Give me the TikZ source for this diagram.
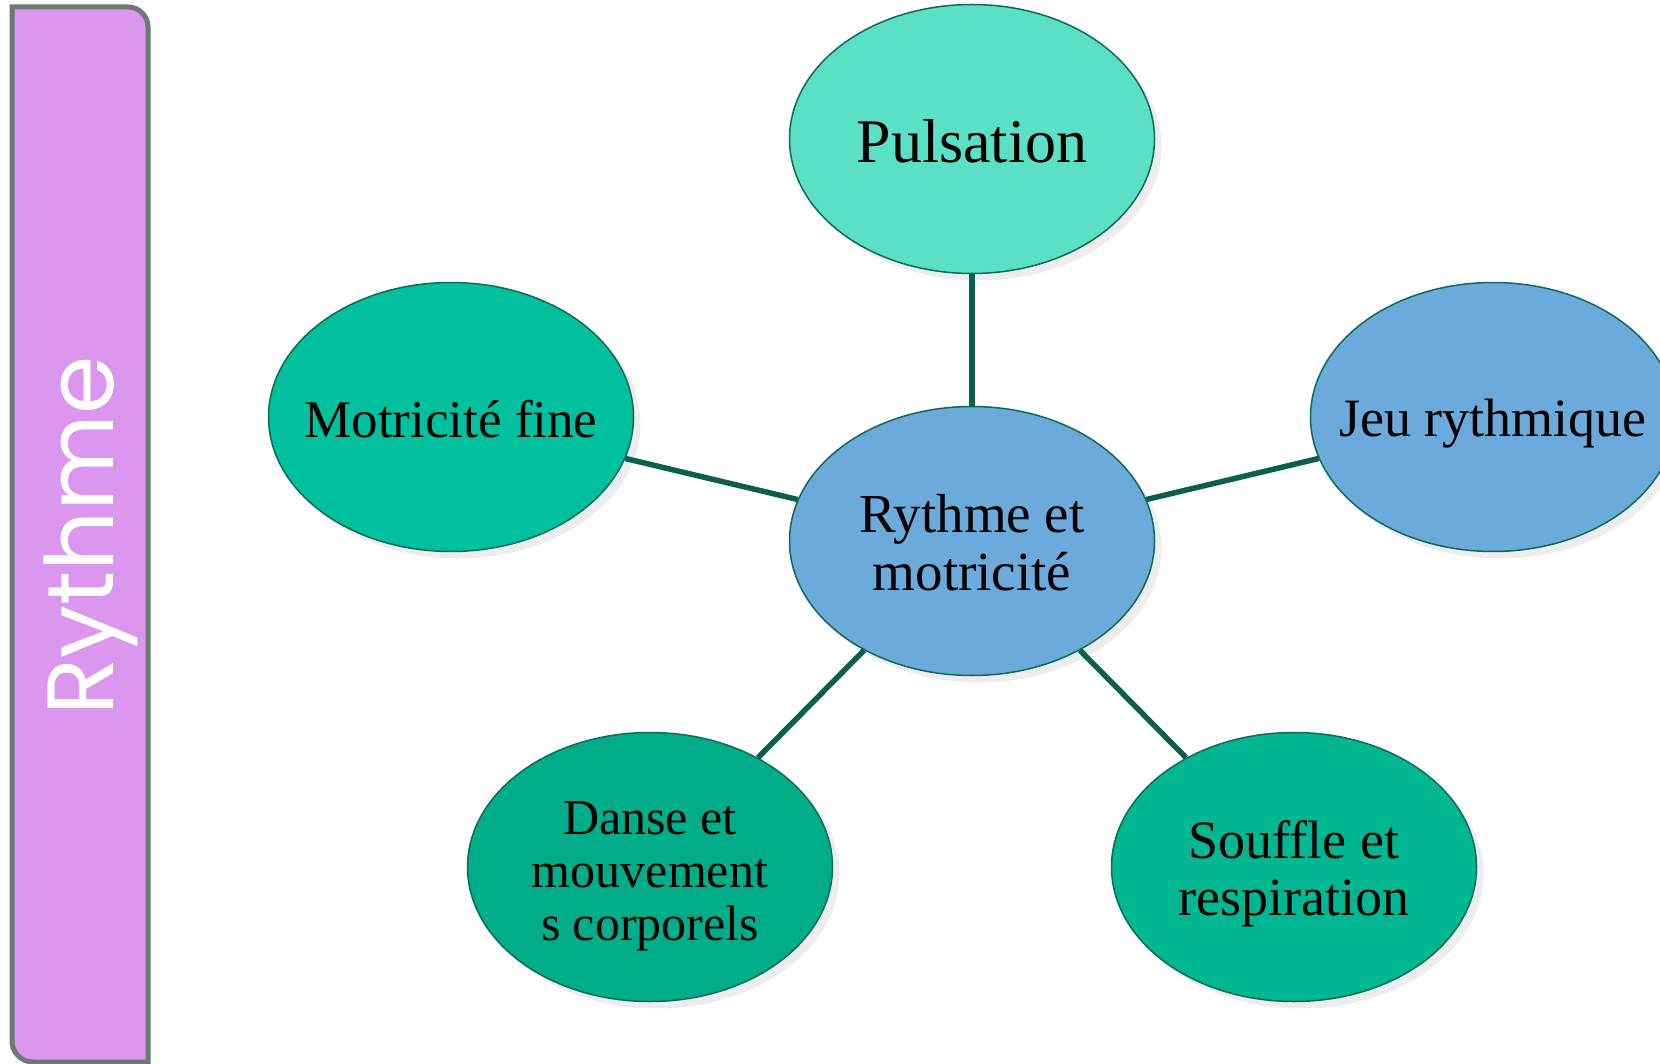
\documentclass[tikz,border=0pt]{standalone}
\usepackage{fontspec}
\setmainfont{Liberation Serif}
\newfontfamily\barfont{Poppins}
\usetikzlibrary{shapes.geometric,shadows}
\definecolor{barfill}{HTML}{DB96EE}
\definecolor{barline}{HTML}{6B7B72}
\definecolor{edgecol}{HTML}{0B5F4C}
\definecolor{ringcol}{HTML}{0D6B57}
\definecolor{cPuls}{HTML}{5BE0C6}
\definecolor{cMot}{HTML}{00C09D}
\definecolor{cBlue}{HTML}{6BAADA}
\definecolor{cDanse}{HTML}{00AD89}
\definecolor{cSouf}{HTML}{00B792}
\tikzset{
  bubble/.style={ellipse, draw=ringcol, line width=1.5pt, minimum width=365pt,
    minimum height=269pt, inner sep=0pt,
    drop shadow={shadow xshift=7pt, shadow yshift=-7pt, fill=black, opacity=0.07}},
  link/.style={draw=edgecol, line width=5.5pt}
}
\begin{document}
\begin{tikzpicture}[x=1pt,y=-1pt]
\useasboundingbox (0,0) rectangle (1660,1064);
\clip (0,0) rectangle (1660,1064);
% side bar
\draw[fill=barfill, draw=barline, line width=5pt]
  (12,7) -- (128,7) arc[start angle=-90, end angle=0, radius=20] -- (148,1070)
  -- (148,1062) -- (33,1062) arc[start angle=90, end angle=180, radius=21] -- cycle;
\node[rotate=90, text=white, font=\barfont\fontsize{94}{110}\selectfont, inner sep=0pt] (bar) at (91,536) {Rythme};
% bubbles
\node[bubble, fill=cPuls, label={[align=center, inner sep=0pt, font=\fontsize{62}{70}\selectfont, yshift=-2pt]center:Pulsation}] (puls) at (972,139) {};
\node[bubble, fill=cBlue, label={[align=center, inner sep=0pt, font=\fontsize{55}{58}\selectfont, yshift=-2pt]center:Rythme et\\motricité}] (ctr) at (972,541) {};
\node[bubble, fill=cMot, label={[align=center, inner sep=0pt, font=\fontsize{53}{60}\selectfont, yshift=-2pt]center:Motricité fine}] (mot) at (451,417) {};
\node[bubble, fill=cBlue, label={[align=center, inner sep=0pt, font=\fontsize{54}{60}\selectfont, yshift=-7pt]center:Jeu rythmique}] (jeu) at (1493,417) {};
\node[bubble, fill=cDanse, label={[align=center, inner sep=0pt, font=\fontsize{50}{53}\selectfont, yshift=-9pt]center:Danse et\\mouvement\\s corporels}] (danse) at (650,867) {};
\node[bubble, fill=cSouf, label={[align=center, inner sep=0pt, font=\fontsize{54}{57}\selectfont, yshift=-7pt]center:Souffle et\\respiration}] (souf) at (1294,867) {};
% connectors
\draw[link] (ctr) -- (puls);
\draw[link] (ctr) -- (mot);
\draw[link] (ctr) -- (jeu);
\draw[link] (ctr) -- (danse);
\draw[link] (ctr) -- (souf);
\end{tikzpicture}
\end{document}
